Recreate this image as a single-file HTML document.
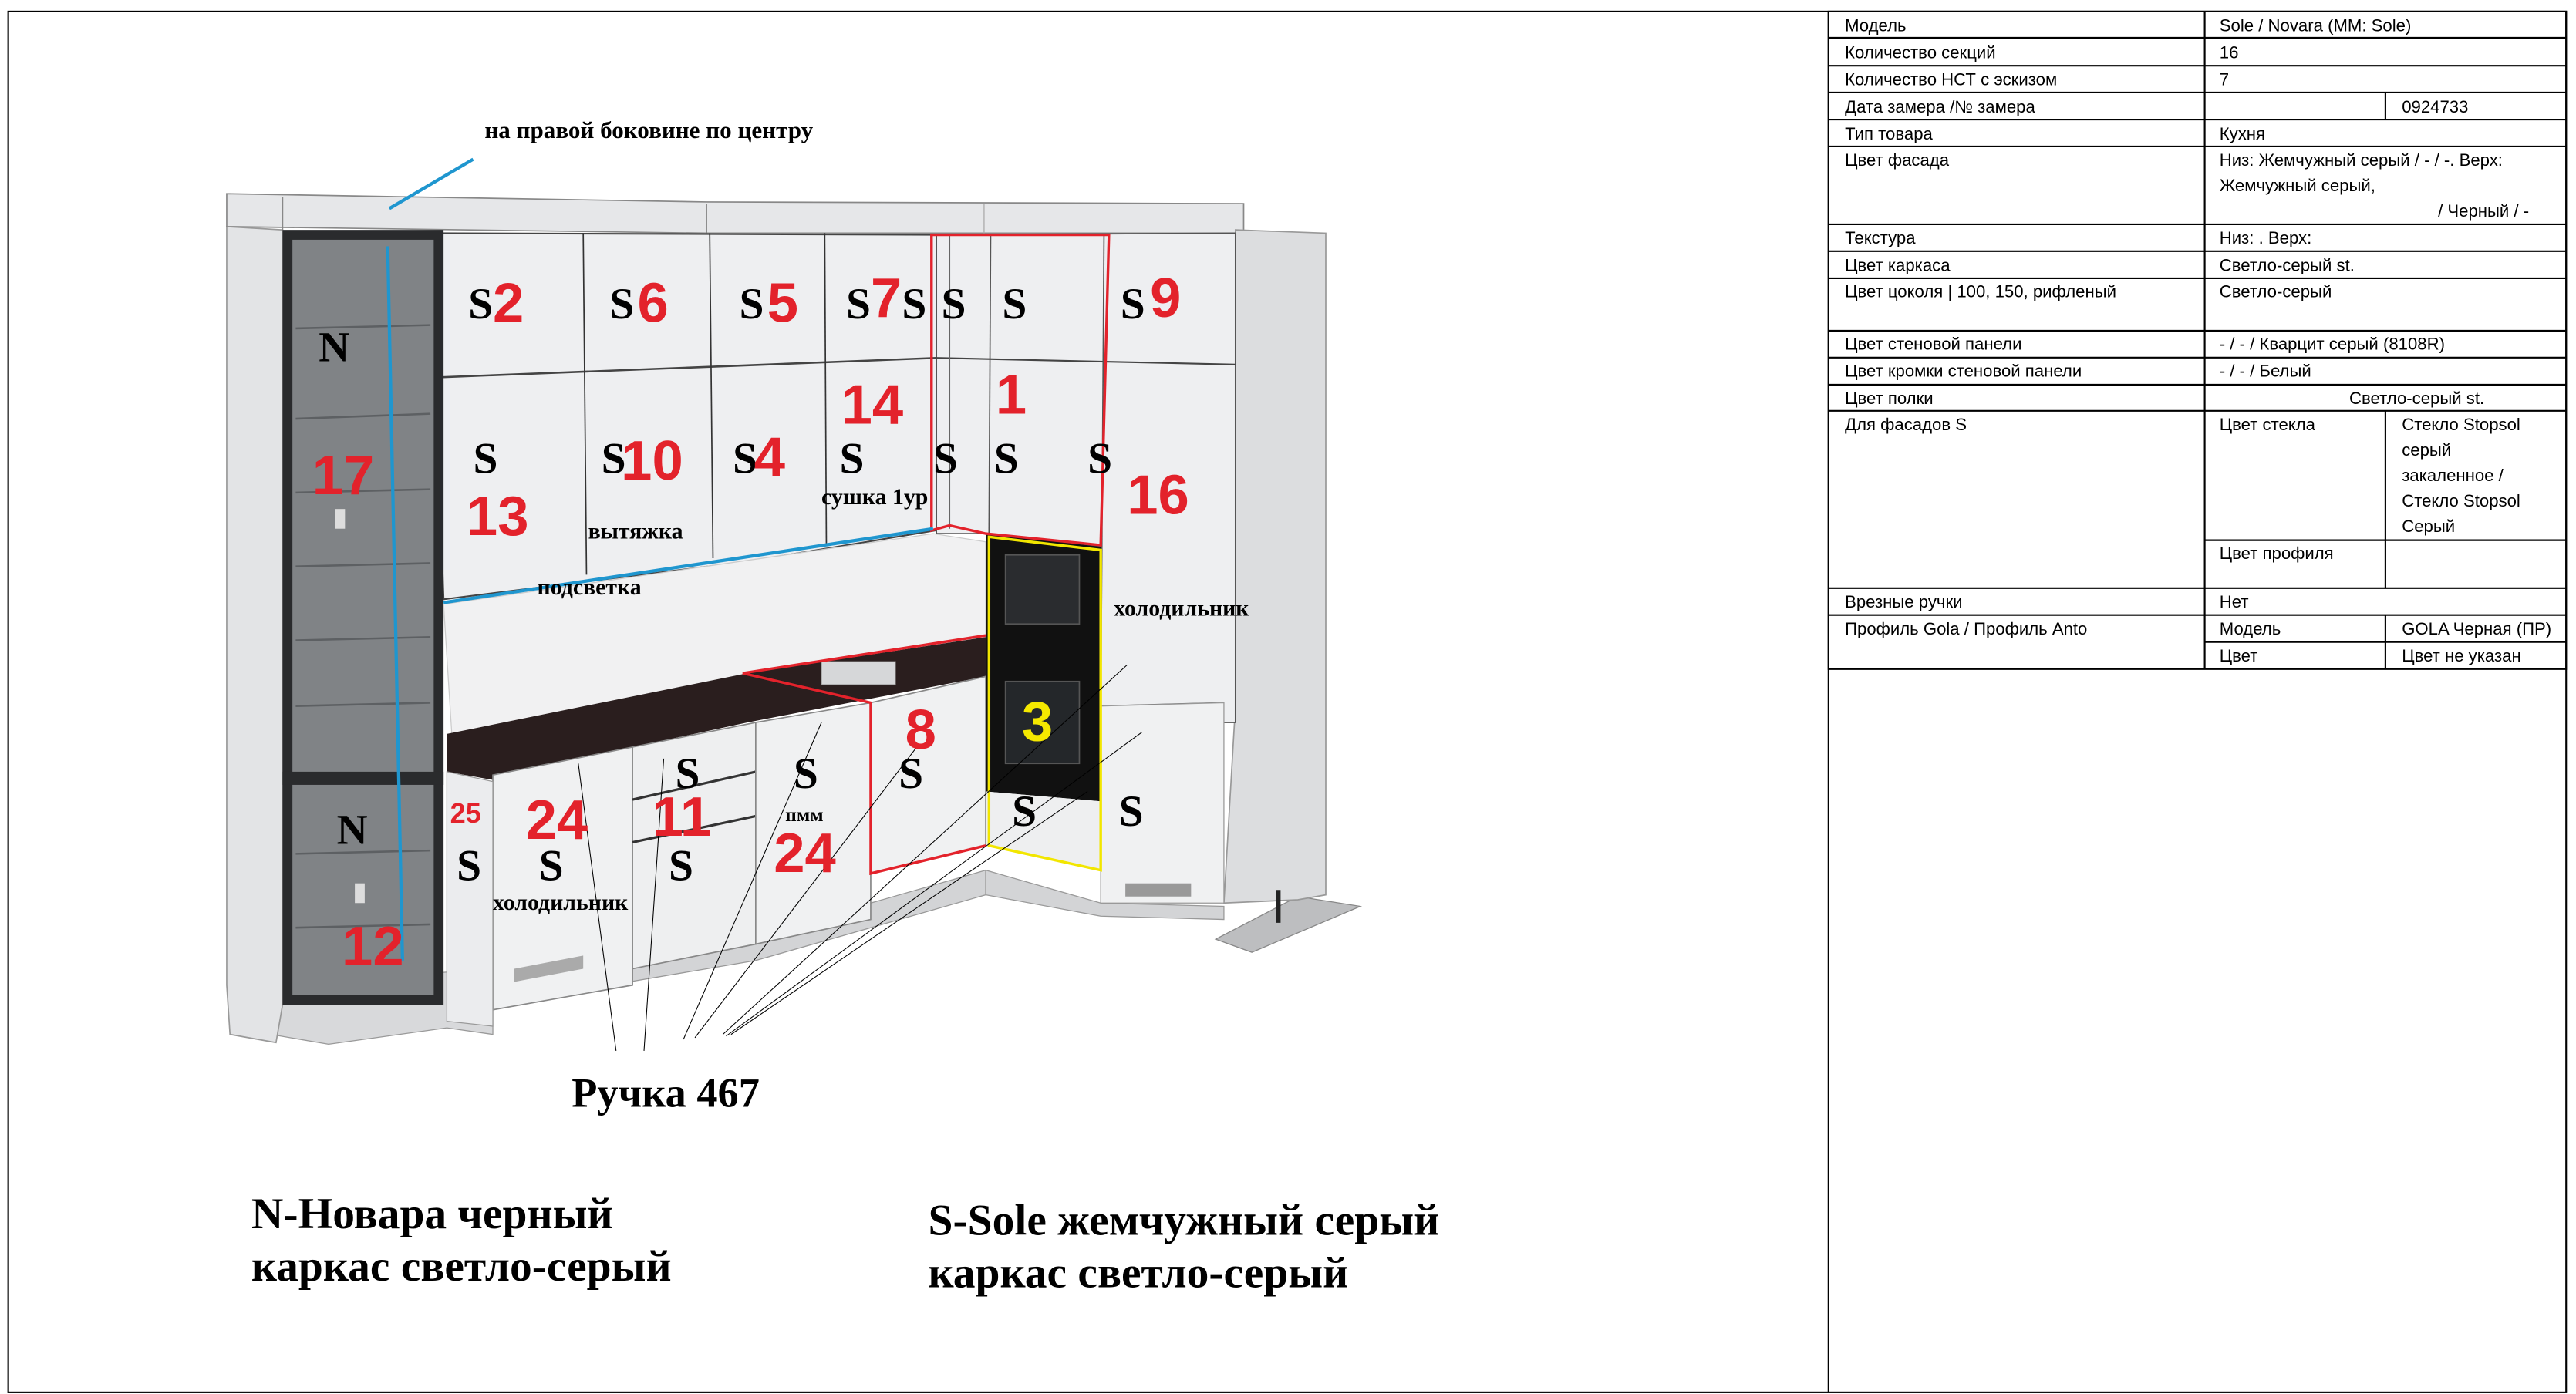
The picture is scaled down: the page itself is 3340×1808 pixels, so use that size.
<!DOCTYPE html>
<html><head><meta charset="utf-8"><style>
html,body{margin:0;padding:0;background:#fff;}
svg{display:block;}
.t{font-family:"Liberation Sans",sans-serif;font-size:10.4px;fill:#000;}
.b{font-family:"Liberation Serif",serif;font-weight:bold;fill:#000;}
.r{font-family:"Liberation Sans",sans-serif;font-weight:bold;fill:#e3222b;}
</style></head><body>
<svg width="3340" height="1808" viewBox="0 0 1568 849" preserveAspectRatio="none" xmlns="http://www.w3.org/2000/svg">
<rect x="5" y="7" width="1557" height="841" fill="#fff" stroke="#000" stroke-width="1"/>
<line x1="1113" y1="7" x2="1113" y2="848" stroke="#000" stroke-width="1"/>

<!-- table -->
<g stroke="#000" stroke-width="1" fill="none">
<rect x="1113" y="7" width="449" height="400.5"/>
<line x1="1342" y1="7" x2="1342" y2="407.5"/>
<g>
<line x1="1113" y1="23" x2="1562" y2="23"/>
<line x1="1113" y1="40" x2="1562" y2="40"/>
<line x1="1113" y1="56.3" x2="1562" y2="56.3"/>
<line x1="1113" y1="72.8" x2="1562" y2="72.8"/>
<line x1="1113" y1="89.2" x2="1562" y2="89.2"/>
<line x1="1113" y1="136.6" x2="1562" y2="136.6"/>
<line x1="1113" y1="153" x2="1562" y2="153"/>
<line x1="1113" y1="169.5" x2="1562" y2="169.5"/>
<line x1="1113" y1="201.4" x2="1562" y2="201.4"/>
<line x1="1113" y1="217.8" x2="1562" y2="217.8"/>
<line x1="1113" y1="234.3" x2="1562" y2="234.3"/>
<line x1="1113" y1="250.2" x2="1562" y2="250.2"/>
<line x1="1342" y1="329" x2="1562" y2="329"/>
<line x1="1113" y1="358.2" x2="1562" y2="358.2"/>
<line x1="1113" y1="374.6" x2="1562" y2="374.6"/>
<line x1="1342" y1="391" x2="1562" y2="391"/>
</g>
<line x1="1452" y1="56.3" x2="1452" y2="72.8"/>
<line x1="1452" y1="250.2" x2="1452" y2="358.2"/>
<line x1="1452" y1="374.6" x2="1452" y2="407.5"/>
</g>
<g class="t">
<text x="1123" y="19">Модель</text><text x="1351" y="19">Sole / Novara (MM: Sole)</text>
<text x="1123" y="35.5">Количество секций</text><text x="1351" y="35.5">16</text>
<text x="1123" y="52">Количество НСТ с эскизом</text><text x="1351" y="52">7</text>
<text x="1123" y="68.5">Дата замера /№ замера</text><text x="1462" y="68.5">0924733</text>
<text x="1123" y="85">Тип товара</text><text x="1351" y="85">Кухня</text>
<text x="1123" y="101">Цвет фасада</text><text x="1351" y="101">Низ: Жемчужный серый / - / -. Верх:</text>
<text x="1351" y="116.5">Жемчужный серый,</text><text x="1484" y="132">/ Черный / -</text>
<text x="1123" y="148.5">Текстура</text><text x="1351" y="148.5">Низ: . Верх:</text>
<text x="1123" y="165">Цвет каркаса</text><text x="1351" y="165">Светло-серый st.</text>
<text x="1123" y="181">Цвет цоколя | 100, 150, рифленый</text><text x="1351" y="181">Светло-серый</text>
<text x="1123" y="213">Цвет стеновой панели</text><text x="1351" y="213">- / - / Кварцит серый (8108R)</text>
<text x="1123" y="229.5">Цвет кромки стеновой панели</text><text x="1351" y="229.5">- / - / Белый</text>
<text x="1123" y="246">Цвет полки</text><text x="1430" y="246">Светло-серый st.</text>
<text x="1123" y="262">Для фасадов S</text><text x="1351" y="262">Цвет стекла</text>
<text x="1462" y="262">Стекло Stopsol</text><text x="1462" y="277.5">серый</text>
<text x="1462" y="293">закаленное /</text><text x="1462" y="308.5">Стекло Stopsol</text>
<text x="1462" y="324">Серый</text>
<text x="1351" y="340.5">Цвет профиля</text>
<text x="1123" y="370">Врезные ручки</text><text x="1351" y="370">Нет</text>
<text x="1123" y="386.5">Профиль Gola / Профиль Anto</text><text x="1351" y="386.5">Модель</text><text x="1462" y="386.5">GOLA Черная (ПР)</text>
<text x="1351" y="403">Цвет</text><text x="1462" y="403">Цвет не указан</text>
</g>

<!-- kitchen drawing -->
<polygon points="165,600 300,590 300,630 272,626 200,636 165,630" fill="#d8d9db" stroke="#999" stroke-width="0.6"/>
<polygon points="300,595 460,570 600,530 600,545 460,585 300,612" fill="#d3d4d6" stroke="#999" stroke-width="0.6"/>
<polygon points="600,530 670,550 745,552 745,560 670,558 600,545" fill="#d3d4d6" stroke="#999" stroke-width="0.6"/>
<polygon points="740,572 790,546 828,552 762,580" fill="#bdbec0" stroke="#888" stroke-width="0.6"/>
<polygon points="138,138 172,140 172,612 168,635 140,630 138,600" fill="#e3e4e6" stroke="#999" stroke-width="0.8"/>
<polygon points="138,118 430,123 757,124 757,142 430,142 138,138" fill="#e6e7e9" stroke="#888" stroke-width="0.8"/>
<line x1="172" y1="120" x2="172" y2="140" stroke="#888" stroke-width="0.8"/>
<line x1="430" y1="124" x2="430" y2="142" stroke="#777" stroke-width="0.8"/>
<line x1="599" y1="124" x2="599" y2="142" stroke="#aaa" stroke-width="0.6"/>
<polygon points="752,140 807,142 807,545 790,548 745,550 752,430" fill="#dcdddf" stroke="#999" stroke-width="0.8"/>
<polygon points="262,142 570,143 570,323 455,342 270,365" fill="#eeeff1" stroke="#444" stroke-width="1"/>
<line x1="262" y1="230" x2="570" y2="218" stroke="#444" stroke-width="1.2"/>
<line x1="355" y1="142" x2="357" y2="350" stroke="#333" stroke-width="0.8"/>
<line x1="432" y1="142" x2="434" y2="340" stroke="#333" stroke-width="0.8"/>
<line x1="502" y1="142" x2="503" y2="331" stroke="#333" stroke-width="0.8"/>
<polygon points="570,143 752,142 752,440 670,440 670,333 600,325 570,325" fill="#eeeff1" stroke="#555" stroke-width="0.8"/>
<line x1="570" y1="218" x2="752" y2="222" stroke="#444" stroke-width="1"/>
<line x1="578" y1="143" x2="578" y2="322" stroke="#666" stroke-width="0.8"/>
<line x1="603" y1="143" x2="602" y2="325" stroke="#555" stroke-width="0.8"/>
<line x1="672" y1="143" x2="670" y2="440" stroke="#555" stroke-width="0.8"/>
<line x1="670" y1="430" x2="745" y2="428" stroke="#555" stroke-width="0.8"/>
<rect x="172" y="140" width="98" height="472" fill="#2a2b2d"/>
<rect x="178" y="146" width="86" height="460" fill="#808386"/>
<g stroke="#5d6063" stroke-width="1.2">
<line x1="180" y1="200" x2="262" y2="198"/><line x1="180" y1="255" x2="262" y2="252"/>
<line x1="180" y1="300" x2="262" y2="298"/><line x1="180" y1="345" x2="262" y2="343"/>
<line x1="180" y1="390" x2="262" y2="388"/><line x1="180" y1="430" x2="262" y2="428"/>
<line x1="180" y1="520" x2="262" y2="518"/><line x1="180" y1="565" x2="262" y2="563"/>
</g>
<rect x="172" y="470" width="98" height="8" fill="#2a2b2d"/>
<rect x="204" y="310" width="6" height="12" fill="#ddd"/>
<rect x="216" y="538" width="6" height="12" fill="#ddd"/>
<polygon points="270,368 568,325 600,330 600,390 455,412 275,447" fill="#f1f1f2" stroke="#ccc" stroke-width="0.6"/>
<polygon points="272,447 455,410 600,388 600,412 455,440 385,455 300,475 272,470" fill="#2a1e1e"/>
<rect x="500" y="403" width="45" height="14" fill="#d6d7d9" stroke="#999" stroke-width="0.6"/>
<polygon points="300,472 385,455 385,600 300,615" fill="#f0f1f2" stroke="#888" stroke-width="0.8"/>
<polygon points="272,470 300,476 300,625 272,622" fill="#ebecee" stroke="#999" stroke-width="0.6"/>
<polygon points="385,455 460,440 460,575 385,590" fill="#eeeff0" stroke="#888" stroke-width="0.8"/>
<line x1="385" y1="487" x2="460" y2="470" stroke="#333" stroke-width="1.5"/>
<line x1="385" y1="513" x2="460" y2="497" stroke="#333" stroke-width="1.5"/>
<polygon points="460,440 530,428 530,560 460,575" fill="#f0f1f2" stroke="#888" stroke-width="0.8"/>
<polygon points="530,428 600,412 600,515 530,532" fill="#f0f1f2" stroke="#888" stroke-width="0.8"/>
<polygon points="313,590 355,582 355,590 313,598" fill="#aaa"/>
<polygon points="600,325 670,333 670,488 600,482" fill="#111"/>
<rect x="612" y="338" width="45" height="42" fill="#2a2c2f" stroke="#555" stroke-width="0.8"/>
<rect x="612" y="415" width="45" height="50" fill="#24272a" stroke="#555" stroke-width="0.8"/>
<polygon points="600,482 670,488 670,530 600,515" fill="#eeeff0"/>
<polygon points="670,430 745,428 745,550 670,550" fill="#f0f1f2" stroke="#999" stroke-width="0.6"/>
<rect x="685" y="538" width="40" height="8" fill="#999"/>
<line x1="778" y1="542" x2="778" y2="562" stroke="#222" stroke-width="3"/>
<g fill="none" stroke="#e3222b" stroke-width="1.6">
<polygon points="567,143 675,143 670,332 600,325 578,320 567,323"/>
<polyline points="452,410 530,428 530,532 600,515"/>
<line x1="452" y1="410" x2="600" y2="387"/>
</g>
<polygon points="602,327 670,335 670,530 602,515" fill="none" stroke="#f2e600" stroke-width="1.6"/>
<g stroke="#1f96cf" stroke-width="2" fill="none">
<line x1="237" y1="127" x2="288" y2="97"/>
<line x1="236" y1="150" x2="245" y2="585"/>
<line x1="270" y1="367" x2="568" y2="322"/>
</g>
<g stroke="#000" stroke-width="0.5">
<line x1="352" y1="465" x2="375" y2="640"/>
<line x1="404" y1="462" x2="392" y2="640"/>
<line x1="500" y1="440" x2="416" y2="633"/>
<line x1="558" y1="455" x2="423" y2="632"/>
<line x1="686" y1="405" x2="440" y2="630"/>
<line x1="695" y1="446" x2="442" y2="631"/>
<line x1="662" y1="482" x2="445" y2="630"/>
</g>

<text class="b" x="295" y="84" font-size="14.6">на правой боковине по центру</text>
<g class="b" font-size="27">
<text x="285" y="194">S</text><text x="371" y="194">S</text><text x="450" y="194">S</text>
<text x="515" y="194">S</text><text x="549" y="194">S</text><text x="573" y="194">S</text>
<text x="610" y="194">S</text><text x="682" y="194">S</text>
<text x="288" y="288">S</text><text x="366" y="288">S</text><text x="446" y="288">S</text>
<text x="511" y="288">S</text><text x="568" y="288">S</text><text x="605" y="288">S</text><text x="662" y="288">S</text>
<text x="411" y="480">S</text><text x="483" y="480">S</text><text x="547" y="480">S</text>
<text x="278" y="536">S</text><text x="328" y="536">S</text><text x="407" y="536">S</text>
<text x="616" y="503">S</text><text x="681" y="503">S</text>
<text x="194" y="220" font-size="26">N</text><text x="205" y="514" font-size="26">N</text>
</g>
<g class="r" font-size="34">
<text x="300" y="196">2</text><text x="388" y="196">6</text><text x="467" y="196">5</text><text x="530" y="193">7</text><text x="700" y="193">9</text>
<text x="190" y="301">17</text><text x="284" y="326">13</text><text x="378" y="292">10</text><text x="459" y="290">4</text>
<text x="512" y="258">14</text><text x="606" y="252">1</text><text x="686" y="313">16</text>
<text x="551" y="456">8</text><text x="397" y="509">11</text><text x="320" y="511">24</text><text x="471" y="531">24</text>
<text x="208" y="588">12</text>
<text x="274" y="501" font-size="17">25</text>
<text x="622" y="451" style="fill:#f5e800">3</text>
</g>
<g class="b" font-size="14">
<text x="500" y="307">сушка 1ур</text>
<text x="358" y="328">вытяжка</text>
<text x="327" y="362">подсветка</text>
<text x="678" y="375">холодильник</text>
<text x="300" y="554">холодильник</text>
<text x="478" y="500" font-size="12">пмм</text>
</g>
<text class="b" x="348" y="674" font-size="25.5">Ручка 467</text>
<g class="b" font-size="27">
<text x="153" y="748">N-Новара черный</text>
<text x="153" y="780">каркас светло-серый</text>
<text x="565" y="752">S-Sole жемчужный серый</text>
<text x="565" y="784">каркас светло-серый</text>
</g>
</svg>
</body></html>
